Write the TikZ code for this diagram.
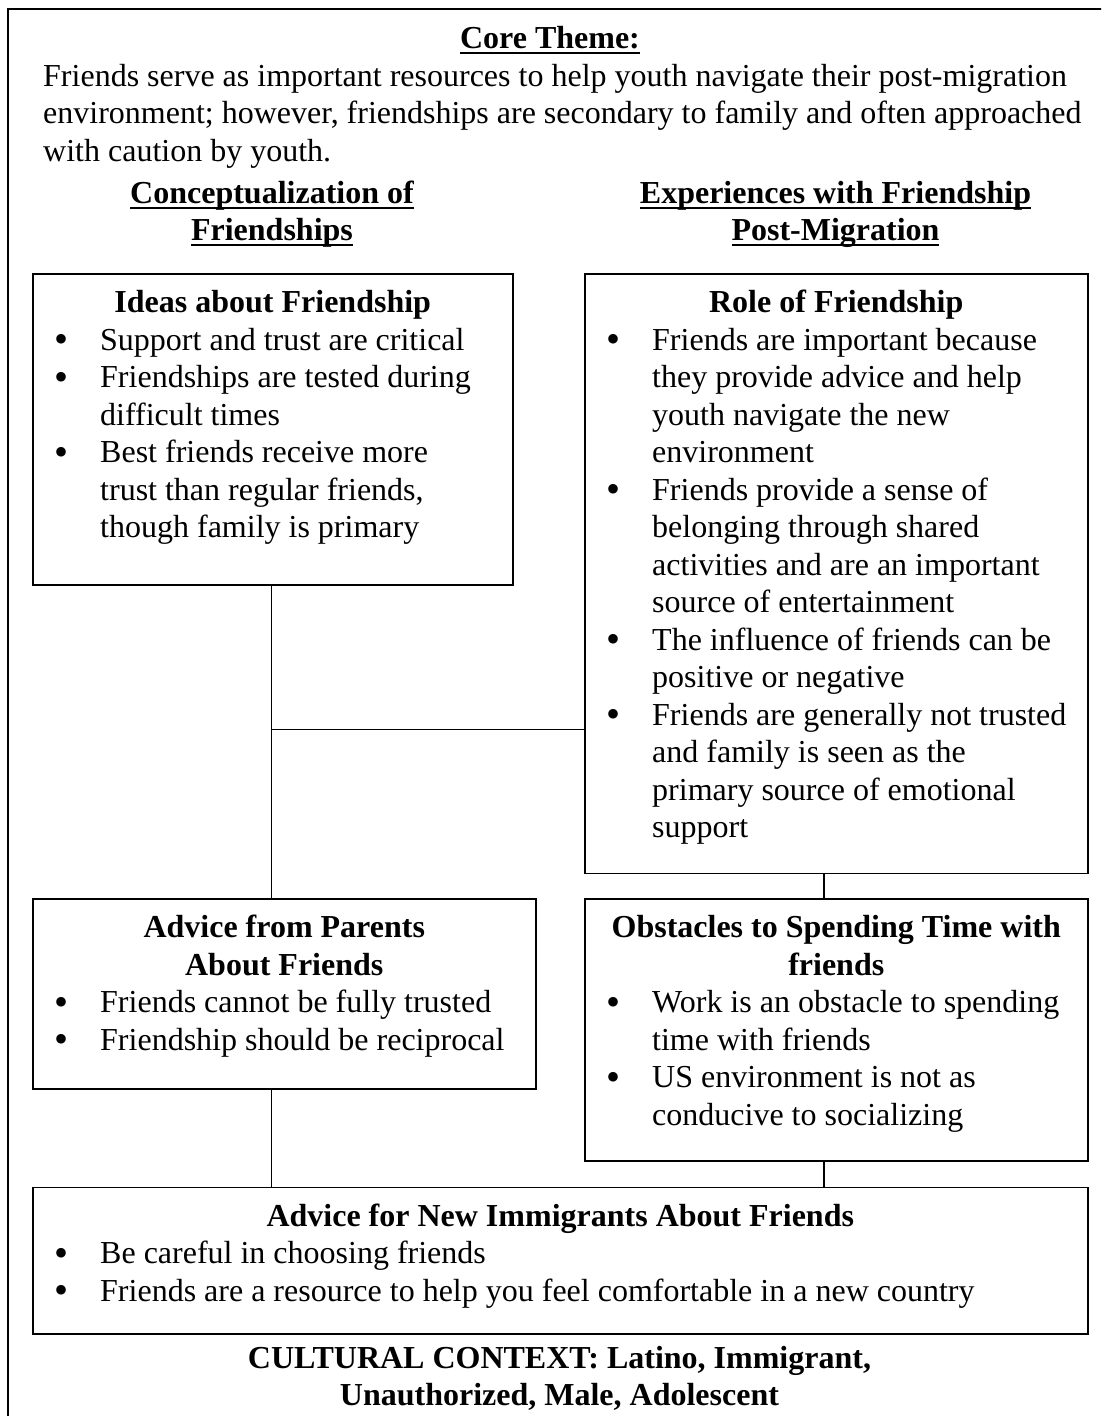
\documentclass[tikz,border=0pt]{standalone}
\usepackage{fontspec}
\setmainfont{Liberation Serif}

% body text size and leading used throughout
\newcommand\bodyfont{\fontsize{32}{37.5}\selectfont}

% underline sitting at a fixed depth (descenders may cross it)
\newsavebox\ulbox
\newcommand\ulin[1]{\leavevmode\sbox\ulbox{#1}\rlap{\rule[-5.5pt]{\wd\ulbox}{1.8pt}}\usebox\ulbox}

% a slightly heavier bullet, kept at the same height
\newcommand\bul{\raisebox{-2.6pt}{\scalebox{1.25}{\textbullet}}}
% one bullet item with hanging indent; lines inside an item are broken with \newline
\newcommand\itm[1]{\par\noindent\hangindent=46pt\hangafter=1\makebox[46pt][l]{\bul}#1}

\tikzset{
  box/.style={draw, line width=1.5pt, anchor=north west, inner sep=0pt},
  link/.style={draw, line width=1.5pt},
  txt/.style={inner sep=0pt, font=\bodyfont},
  title/.style={txt, anchor=base},
  items/.style={txt, anchor=base west},
}

\begin{document}
\begin{tikzpicture}[x=1pt, y=-1pt]
\useasboundingbox (0,0) rectangle (1101,1416);
\begin{scope}
\clip (0,0) rectangle (1101,1416);
% outer frame, running off the right and bottom edges
\draw[line width=2pt] (1120,9) -- (7.5,9) -- (7.5,1430);
\end{scope}

% ---- header ----
\node[title] (core) at (550,48.5) {\bfseries\ulin{Core Theme:}};
\node[items] (coretext) at (43,86) {\parbox[t]{1060pt}{\raggedright
Friends serve as important resources to help youth navigate their post-migration\\
environment; however, friendships are secondary to family and often approached\\
with caution by youth.}};

\node[title] (colL) at (272,203) {\parbox[t]{520pt}{\centering\bfseries
\ulin{Conceptualization of}\\ \ulin{Friendships}}};
\node[title] (colR) at (835.5,203) {\parbox[t]{520pt}{\centering\bfseries
\ulin{Experiences with Friendship}\\ \ulin{Post-Migration}}};

% ---- boxes ----
\node[box, minimum width=480pt, minimum height=311pt] (ideas) at (32,273) {};
\node[box, minimum width=503pt, minimum height=599.5pt] (role) at (584,273) {};
\node[box, minimum width=503pt, minimum height=190pt] (parents) at (32,898) {};
\node[box, minimum width=503pt, minimum height=262pt] (obst) at (584,898) {};
\node[box, minimum width=1055pt, minimum height=146.6pt] (newimm) at (32,1186.7) {};

% ---- box contents ----
\node[title] (ideasT) at ([yshift=-39.5pt]ideas.north) {\bfseries Ideas about Friendship};
\node[items] (ideasL) at ([xshift=22pt,yshift=-77pt]ideas.north west) {\parbox[t]{470pt}{\raggedright
\itm{Support and trust are critical}
\itm{Friendships are tested during\newline difficult times}
\itm{Best friends receive more\newline trust than regular friends,\newline though family is primary}}};

\node[title] (roleT) at ([yshift=-39.5pt]role.north) {\bfseries Role of Friendship};
\node[items] (roleL) at ([xshift=22pt,yshift=-77pt]role.north west) {\parbox[t]{480pt}{\raggedright
\itm{Friends are important because\newline they provide advice and help\newline youth navigate the new\newline environment}
\itm{Friends provide a sense of\newline belonging through shared\newline activities and are an important\newline source of entertainment}
\itm{The influence of friends can be\newline positive or negative}
\itm{Friends are generally not trusted\newline and family is seen as the\newline primary source of emotional\newline support}}};

\node[title] (parentsT) at ([yshift=-39.5pt]parents.north) {\parbox[t]{500pt}{\centering\bfseries
Advice from Parents\\ About Friends}};
\node[items] (parentsL) at ([xshift=22pt,yshift=-114.5pt]parents.north west) {\parbox[t]{480pt}{\raggedright
\itm{Friends cannot be fully trusted}
\itm{Friendship should be reciprocal}}};

\node[title] (obstT) at ([yshift=-39.5pt]obst.north) {\parbox[t]{500pt}{\centering\bfseries
Obstacles to Spending Time with\\ friends}};
\node[items] (obstL) at ([xshift=22pt,yshift=-114.5pt]obst.north west) {\parbox[t]{480pt}{\raggedright
\itm{Work is an obstacle to spending\newline time with friends}
\itm{US environment is not as\newline conducive to socializing}}};

\node[title] (newimmT) at ([yshift=-39.5pt]newimm.north) {\bfseries Advice for New Immigrants About Friends};
\node[items] (newimmL) at ([xshift=22pt,yshift=-77pt]newimm.north west) {\parbox[t]{1030pt}{\raggedright
\itm{Be careful in choosing friends}
\itm{Friends are a resource to help you feel comfortable in a new country}}};

% ---- footer ----
\node[title] (context) at (559.5,1368) {\parbox[t]{900pt}{\centering\bfseries
CULTURAL CONTEXT: Latino, Immigrant,\\ Unauthorized, Male, Adolescent}};

% ---- connectors ----
\coordinate (lx) at (271.5,0);
\coordinate (rx) at (823.8,0);
\coordinate (join) at (271.5,729.3);
\draw[link] (lx |- ideas.south) -- (lx |- parents.north);
\draw[link] (join) -- (join -| role.west);
\draw[link] (lx |- parents.south) -- (lx |- newimm.north);
\draw[link] (rx |- role.south) -- (rx |- obst.north);
\draw[link] (rx |- obst.south) -- (rx |- newimm.north);
\end{tikzpicture}
\end{document}
